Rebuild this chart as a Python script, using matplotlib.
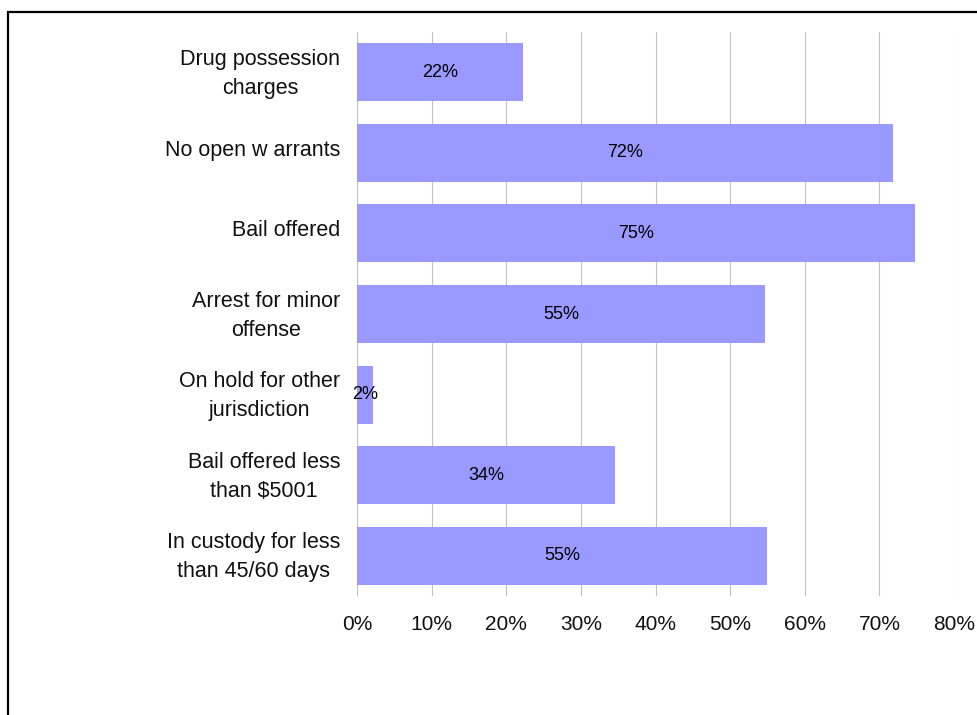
import matplotlib.pyplot as plt
import matplotlib.ticker as mtick
import matplotlib.transforms as mtrans
from matplotlib.patches import Rectangle

# ----------------------------
# DATA
# ----------------------------
categories = [
    "Drug possession\ncharges",
    "No open w arrants",
    "Bail offered",
    "Arrest for minor\noffense",
    "On hold for other\njurisdiction",
    "Bail offered less\nthan $5001",
    "In custody for less\nthan 45/60 days",
]
values = [22.3, 71.8, 74.8, 54.7, 2.1, 34.6, 55.0]
bar_labels = ["22%", "72%", "75%", "55%", "2%", "34%", "55%"]
x_ticks = [0, 10, 20, 30, 40, 50, 60, 70, 80]

plt.rcParams["font.family"] = ["Liberation Sans", "DejaVu Sans"]

fig = plt.figure(figsize=(9.78, 7.15), dpi=100)
ax = fig.add_axes([357 / 978, 1 - 596 / 715, (954 - 357) / 978, (596 - 32) / 715])

y_pos = list(range(len(categories)))
bars = ax.barh(y_pos, values, height=0.72, color="#9999FF", zorder=2)

ax.set_xlim(0, 80)
ax.set_ylim(len(categories) - 0.5, -0.5)

ax.set_xticks(x_ticks)
ax.xaxis.set_major_formatter(mtick.PercentFormatter(xmax=100, decimals=0))
ax.set_yticks(y_pos)
ax.set_yticklabels(categories, fontsize=15.5, ha="right", linespacing=1.5)
ax.tick_params(axis="x", labelsize=15, length=0, pad=14, labelcolor="#111111")
ax.tick_params(axis="y", length=0, pad=12, labelcolor="#111111")

# nudge category labels up a little, like the original
shift_up = mtrans.ScaledTranslation(0, 5 / 100, fig.dpi_scale_trans)
for lbl in ax.get_yticklabels():
    lbl.set_multialignment("center")
    lbl.set_transform(lbl.get_transform() + shift_up)

ax.grid(axis="x", color="#c0c0c0", linewidth=0.8, zorder=0)
ax.set_axisbelow(True)
for side in ["top", "right", "bottom", "left"]:
    ax.spines[side].set_visible(False)

# bar value labels
for rect, txt in zip(bars, bar_labels):
    ax.text(
        rect.get_x() + rect.get_width() / 2,
        rect.get_y() + rect.get_height() / 2,
        txt,
        ha="center",
        va="center",
        fontsize=13,
        color="black",
        zorder=3,
    )

# outer frame (runs off the right and bottom edges)
frame = Rectangle(
    (8 / 978, -0.05),
    1.05,
    1 - 12 / 715 + 0.05,
    transform=fig.transFigure,
    fill=False,
    edgecolor="black",
    linewidth=1.6,
    clip_on=False,
)
fig.patches.append(frame)

fig.savefig("out.png", dpi=100)
